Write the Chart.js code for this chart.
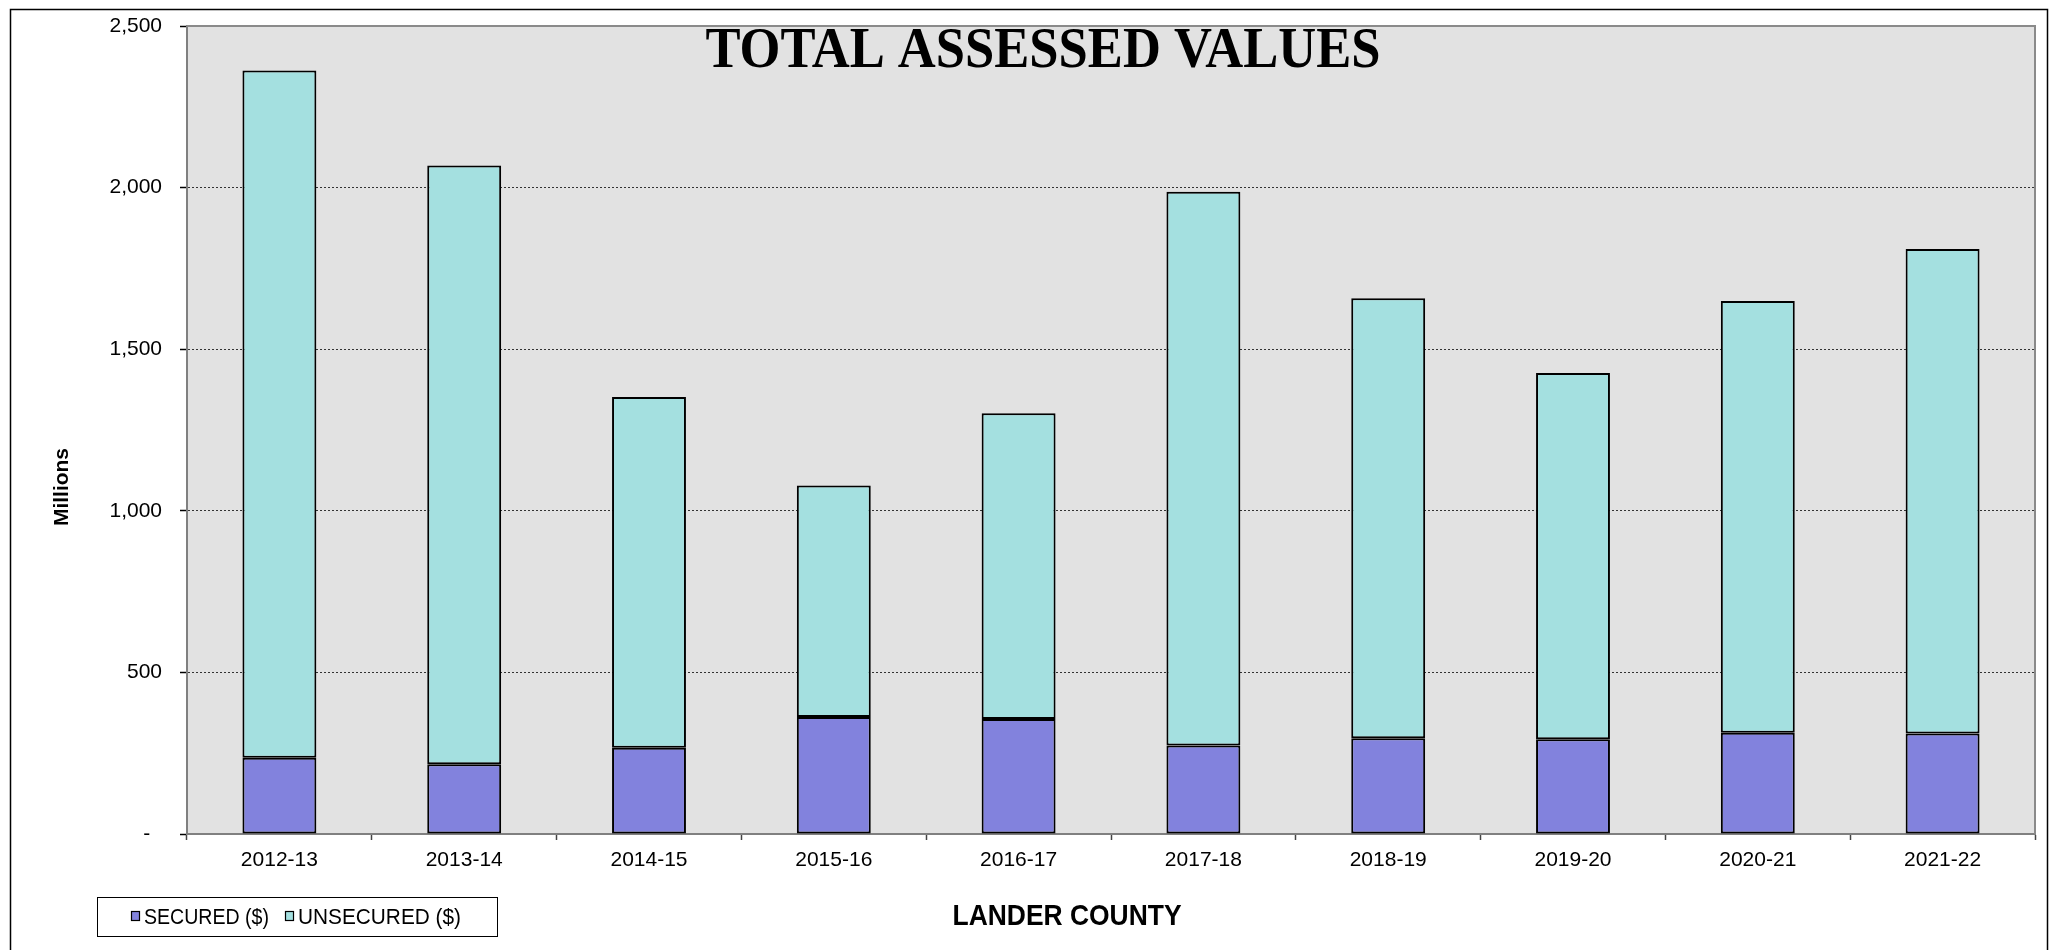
<!DOCTYPE html>
<html>
<head>
<meta charset="utf-8">
<title>Total Assessed Values - Lander County</title>
<script src="https://cdn.jsdelivr.net/npm/chart.js@4.4.0/dist/chart.umd.min.js"></script>
<style>
  html, body { margin: 0; padding: 0; background: #fff; }
  #wrap { position: relative; width: 2050px; height: 950px; }
</style>
</head>
<body>
<div id="wrap"><canvas id="chart" width="2050" height="950"></canvas></div>
<script>
// values in millions of dollars
const years = ['2012-13', '2013-14', '2014-15', '2015-16', '2016-17',
               '2017-18', '2018-19', '2019-20', '2020-21', '2021-22'];
const secured   = [236, 216, 267, 362, 356, 274, 296, 293, 313, 311];
const unsecured = [2126, 1852, 1085, 716, 946, 1713, 1362, 1133, 1336, 1499];
const seriesNames  = ['SECURED ($)', 'UNSECURED ($)'];
const seriesColors = ['#8282dd', '#a4e0e0'];
const chartTitle = 'TOTAL ASSESSED VALUES';
const xTitle = 'LANDER COUNTY';
const yTitle = 'Millions';

const SANS = '"Liberation Sans", Arial, sans-serif';
const SERIF = '"Liberation Serif", "Times New Roman", serif';

// draw text squeezed/stretched to a given width
function drawFitted(ctx, text, font, x, y, width, align) {
  ctx.save();
  ctx.font = font;
  const w = ctx.measureText(text).width;
  ctx.translate(x, y);
  ctx.scale(width / w, 1);
  ctx.textAlign = align;
  ctx.textBaseline = 'alphabetic';
  ctx.fillStyle = '#000';
  ctx.fillText(text, 0, 0);
  ctx.restore();
}

const decor = {
  id: 'decor',
  beforeDraw(chart) {
    const { ctx, chartArea: a } = chart;
    ctx.save();
    ctx.fillStyle = '#e2e2e2';
    ctx.fillRect(a.left, a.top, a.right - a.left, a.bottom - a.top);
    ctx.restore();
  },
  afterDraw(chart) {
    const { ctx, chartArea: a } = chart;
    ctx.save();

    // outer frame
    ctx.strokeStyle = '#000';
    ctx.lineWidth = 1.5;
    ctx.strokeRect(10.5, 9.5, 2037, 1000);

    // plot frame top + right
    ctx.strokeStyle = '#8a8a8a';
    ctx.lineWidth = 2;
    ctx.beginPath();
    ctx.moveTo(a.left, a.top);
    ctx.lineTo(a.right, a.top);
    ctx.lineTo(a.right, a.bottom);
    ctx.stroke();

    // title inside plot
    drawFitted(ctx, chartTitle, 'bold 58px ' + SERIF, 1043, 67, 675, 'center');

    // axis titles
    drawFitted(ctx, xTitle, 'bold 30px ' + SANS, 1067, 925, 229, 'center');
    ctx.save();
    ctx.translate(68, 487);
    ctx.rotate(-Math.PI / 2);
    drawFitted(ctx, yTitle, 'bold 21px ' + SANS, 0, 0, 78, 'center');
    ctx.restore();

    // legend box
    ctx.fillStyle = '#fff';
    ctx.fillRect(97, 897, 400, 39);
    ctx.strokeStyle = '#000';
    ctx.lineWidth = 1;
    ctx.strokeRect(97.5, 897.5, 400, 39);
    const items = [{ x: 131, w: 125 }, { x: 285, w: 163 }];
    chart.data.datasets.forEach((ds, i) => {
      const it = items[i];
      ctx.fillStyle = ds.backgroundColor;
      ctx.fillRect(it.x, 911, 9, 10);
      ctx.strokeStyle = '#000';
      ctx.lineWidth = 1.2;
      ctx.strokeRect(it.x + 0.5, 911.5, 8, 9);
      drawFitted(ctx, ds.label, '22px ' + SANS, it.x + 13, 924, it.w, 'left');
    });

    ctx.restore();
  }
};

new Chart(document.getElementById('chart'), {
  type: 'bar',
  data: {
    labels: years,
    datasets: [
      {
        label: seriesNames[0],
        data: secured,
        backgroundColor: seriesColors[0],
        borderColor: '#000',
        borderWidth: 2,
        borderSkipped: false,
        barPercentage: 0.4,
        categoryPercentage: 1.0
      },
      {
        label: seriesNames[1],
        data: unsecured,
        backgroundColor: seriesColors[1],
        borderColor: '#000',
        borderWidth: 2,
        borderSkipped: false,
        barPercentage: 0.4,
        categoryPercentage: 1.0
      }
    ]
  },
  options: {
    responsive: false,
    animation: false,
    devicePixelRatio: 1,
    layout: { padding: { top: 26, right: 15, left: 0, bottom: 0 } },
    scales: {
      x: {
        stacked: true,
        afterFit: (s) => { s.height = 116; },
        grid: {
          display: true,
          drawOnChartArea: false,
          offset: true,
          tickLength: 6,
          tickColor: '#444',
          tickWidth: 1.5
        },
        border: { color: '#808080', width: 2 },
        ticks: {
          color: '#000',
          padding: 8,
          maxRotation: 0,
          font: { family: SANS, size: 21 }
        }
      },
      y: {
        stacked: true,
        min: 0,
        max: 2500,
        afterFit: (s) => {
          s.width = 187;
          // keep the top of the plot where the reference has it
          s.paddingTop = 0;
          s.paddingBottom = 0;
        },
        grid: {
          color: '#333',
          lineWidth: 1,
          tickLength: 7,
          tickColor: '#000',
          tickWidth: 1.5,
          tickBorderDash: []
        },
        border: { color: '#808080', width: 2, dash: [2, 2] },
        ticks: {
          stepSize: 500,
          color: '#000',
          padding: 18,
          font: { family: SANS, size: 21 },
          callback: (v) => v === 0 ? '-  ' : v.toLocaleString('en-US')
        }
      }
    },
    plugins: {
      legend: { display: false },
      tooltip: { enabled: false },
      title: { display: false }
    }
  },
  plugins: [decor]
});
</script>
</body>
</html>
